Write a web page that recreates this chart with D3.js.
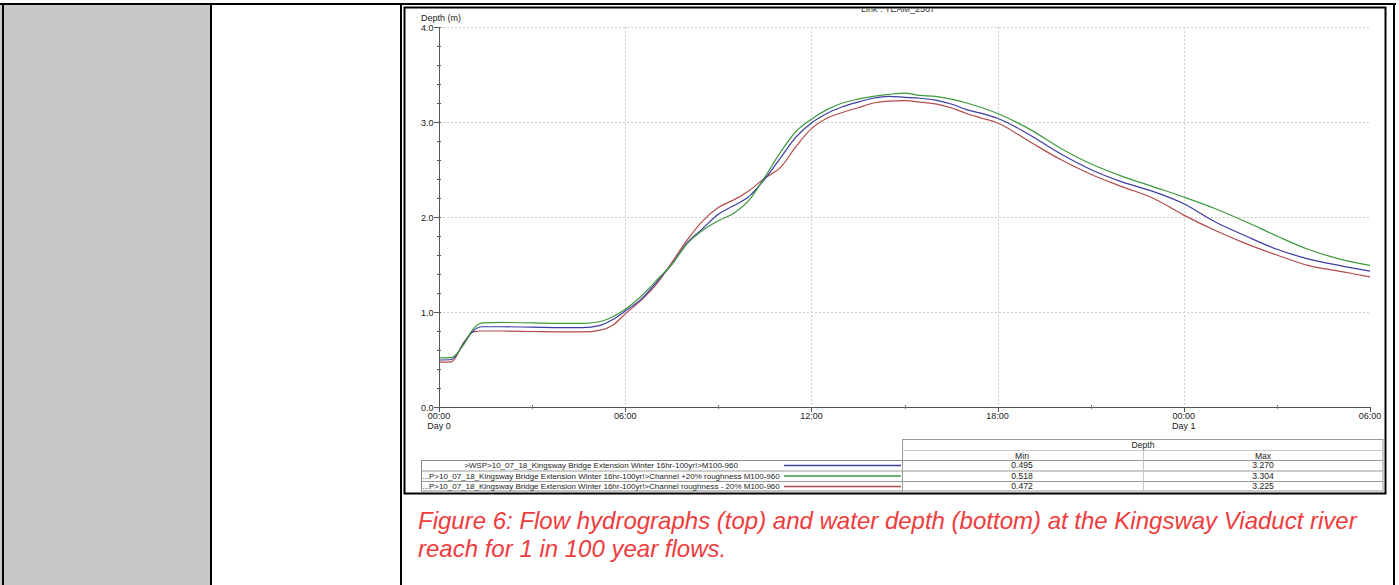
<!DOCTYPE html>
<html>
<head>
<meta charset="utf-8">
<script src="https://cdn.jsdelivr.net/npm/d3@7"></script>
<style>
  html, body { margin: 0; padding: 0; background: #fff; overflow: hidden; }
  svg { display: block; }
</style>
</head>
<body>
<script>
// time in hours from 00:00 Day 0
const hours = [0, 0.4, 0.8, 1.1, 1.4, 2, 3, 4, 4.6, 5.2, 5.6, 6, 6.5, 7, 7.5, 8, 8.5, 9, 9.5, 10,
  10.5, 11, 11.5, 12, 12.5, 13, 13.5, 14, 14.5, 15, 15.5, 16, 16.5, 17, 17.5, 18,
  19, 20, 21, 22, 23, 24, 25, 26, 27, 28, 29, 30]

const baseDepth = [0.495, 0.50, 0.67, 0.80, 0.845, 0.845, 0.84, 0.835, 0.835, 0.86, 0.92, 1.01, 1.13, 1.31, 1.50, 1.73, 1.88, 2.03, 2.12, 2.22,
  2.40, 2.62, 2.84, 2.99, 3.09, 3.16, 3.21, 3.25, 3.27, 3.26, 3.25, 3.23, 3.19, 3.13, 3.09, 3.04,
  2.87, 2.67, 2.50, 2.37, 2.27, 2.14, 1.95, 1.80, 1.66, 1.56, 1.49, 1.43]

const plusDepth = [0.518, 0.52, 0.66, 0.82, 0.885, 0.89, 0.885, 0.88, 0.88, 0.90, 0.95, 1.03, 1.16, 1.33, 1.50, 1.72, 1.86, 1.96, 2.04, 2.18,
  2.42, 2.68, 2.90, 3.03, 3.13, 3.20, 3.24, 3.27, 3.29, 3.304, 3.28, 3.27, 3.24, 3.20, 3.15, 3.09,
  2.93, 2.73, 2.56, 2.43, 2.32, 2.21, 2.09, 1.95, 1.80, 1.66, 1.56, 1.49]

const minusDepth = [0.472, 0.475, 0.68, 0.79, 0.80, 0.80, 0.795, 0.79, 0.79, 0.81, 0.86, 0.98, 1.12, 1.29, 1.52, 1.76, 1.96, 2.10, 2.18, 2.28,
  2.41, 2.52, 2.74, 2.93, 3.04, 3.10, 3.15, 3.20, 3.22, 3.225, 3.21, 3.19, 3.15, 3.09, 3.04, 2.99,
  2.80, 2.61, 2.45, 2.32, 2.20, 2.02, 1.86, 1.72, 1.60, 1.49, 1.43, 1.37]

const seriesNames = [
  '>WSP>10_07_18_Kingsway Bridge Extension Winter 16hr-100yr!>M100-960',
  '...P>10_07_18_Kingsway Bridge Extension Winter 16hr-100yr!>Channel  +20% roughness M100-960',
  '...P>10_07_18_Kingsway Bridge Extension Winter 16hr-100yr!>Channel roughness - 20% M100-960'
]
const seriesColors = ['#3c3ca6', '#3d9a3d', '#b44a4a']
const minVals = ['0.495', '0.518', '0.472']
const maxVals = ['3.270', '3.304', '3.225']

const yTicks = [0, 1, 2, 3, 4]
const xTicks = [0, 6, 12, 18, 24, 30]
const xTickLabels = ['00:00', '06:00', '12:00', '18:00', '00:00', '06:00']
const xDayLabels = ['Day 0', '', '', '', 'Day 1', '']

const width = 1399, height = 585
const svg = d3.select('body').append('svg').attr('width', width).attr('height', height)

// ---- page table (Word document cells) ----
svg.append('rect').attr('x', 0).attr('y', 5).attr('width', 210).attr('height', height).attr('fill', '#c8c8c8')
svg.append('rect').attr('x', 0).attr('y', 3).attr('width', 1396).attr('height', 2).attr('fill', '#000')
;[[2, 2], [210, 2], [400, 2], [1393, 2]].forEach(([x, w]) => {
  svg.append('rect').attr('x', x).attr('y', 3).attr('width', w).attr('height', height).attr('fill', '#000')
})

// ---- chart picture ----
const chart = svg.append('g')
chart.append('rect').attr('x', 404.5).attr('y', 7.5).attr('width', 981).attr('height', 486)
  .attr('fill', '#fff').attr('stroke', '#000').attr('stroke-width', 2)

svg.append('clipPath').attr('id', 'titleClip').append('rect')
  .attr('x', 405).attr('y', 9).attr('width', 980).attr('height', 20)
chart.append('text').attr('clip-path', 'url(#titleClip)')
  .attr('x', 898).attr('y', 12).attr('text-anchor', 'middle')
  .attr('font-family', 'Liberation Sans').attr('font-size', 9).attr('fill', '#333')
  .text('Link : TEAM_2567')

const x = d3.scaleLinear().domain([0, 30]).range([439, 1370])
const y = d3.scaleLinear().domain([0, 4]).range([407, 27])

const font = 'Liberation Sans'

// gridlines
chart.append('g').selectAll('line').data(yTicks.slice(1)).join('line')
  .attr('x1', x(0)).attr('x2', x(30)).attr('y1', d => y(d) + 0.5).attr('y2', d => y(d) + 0.5)
  .attr('stroke', '#cfcfcf').attr('stroke-dasharray', '2,2')
chart.append('g').selectAll('line').data(xTicks.slice(1, -1)).join('line')
  .attr('x1', d => Math.round(x(d)) + 0.5).attr('x2', d => Math.round(x(d)) + 0.5).attr('y1', y(4)).attr('y2', y(0))
  .attr('stroke', '#cfcfcf').attr('stroke-dasharray', '2,2')

// y axis
const yAxis = chart.append('g')
yAxis.append('line').attr('x1', 439.5).attr('x2', 439.5).attr('y1', y(4)).attr('y2', y(0)).attr('stroke', '#555')
yAxis.selectAll('.minor').data(d3.range(0, 4.001, 0.2)).join('line')
  .attr('x1', 437).attr('x2', 441).attr('y1', d => Math.round(y(d)) + 0.5).attr('y2', d => Math.round(y(d)) + 0.5)
  .attr('stroke', '#555')
yAxis.selectAll('.major').data(yTicks).join('line')
  .attr('x1', 434).attr('x2', 439).attr('y1', d => Math.round(y(d)) + 0.5).attr('y2', d => Math.round(y(d)) + 0.5)
  .attr('stroke', '#555')
yAxis.selectAll('text').data(yTicks).join('text')
  .attr('x', 421).attr('y', d => y(d) + 3.5)
  .attr('font-family', font).attr('font-size', 9).attr('fill', '#222')
  .text(d => d3.format('.1f')(d))
chart.append('text').attr('x', 421).attr('y', 21)
  .attr('font-family', font).attr('font-size', 9).attr('fill', '#222').text('Depth (m)')

// x axis
const xAxis = chart.append('g')
xAxis.append('line').attr('x1', x(0)).attr('x2', x(30)).attr('y1', 407.5).attr('y2', 407.5).attr('stroke', '#555')
xAxis.selectAll('.minor').data(d3.range(3, 30, 6)).join('line')
  .attr('x1', d => Math.round(x(d)) + 0.5).attr('x2', d => Math.round(x(d)) + 0.5).attr('y1', 405).attr('y2', 409)
  .attr('stroke', '#777')
xAxis.selectAll('.major').data(xTicks).join('line')
  .attr('x1', d => Math.round(x(d)) + 0.5).attr('x2', d => Math.round(x(d)) + 0.5).attr('y1', 407).attr('y2', 412)
  .attr('stroke', '#555')
xAxis.selectAll('.lab').data(xTicks).join('text')
  .attr('x', d => x(d)).attr('y', 419).attr('text-anchor', 'middle')
  .attr('font-family', font).attr('font-size', 9).attr('fill', '#222')
  .text((d, i) => xTickLabels[i])
xAxis.selectAll('.day').data(xTicks).join('text')
  .attr('x', d => x(d)).attr('y', 429).attr('text-anchor', 'middle')
  .attr('font-family', font).attr('font-size', 9).attr('fill', '#222')
  .text((d, i) => xDayLabels[i])

// depth lines
const allSeries = [baseDepth, plusDepth, minusDepth]
const line = d3.line().x(d => x(d[0])).y(d => y(d[1])).curve(d3.curveMonotoneX)
// draw red first, then blue, green on top
;[2, 0, 1].forEach(i => {
  chart.append('path')
    .datum(hours.map((h, j) => [h, allSeries[i][j]]))
    .attr('d', line).attr('fill', 'none')
    .attr('stroke', seriesColors[i]).attr('stroke-width', 1.2)
})

// ---- legend + stats table ----
const leg = chart.append('g')
const rowY = [460, 470.5, 481, 491]
leg.append('rect').attr('x', 421.5).attr('y', 460.5).attr('width', 481).attr('height', 30.5)
  .attr('fill', 'none').attr('stroke', '#8a8a8a')
leg.selectAll('.rl').data(rowY.slice(1, 3)).join('line')
  .attr('x1', 421.5).attr('x2', 1383).attr('y1', d => d + 0.5).attr('y2', d => d + 0.5).attr('stroke', '#9a9a9a')
leg.selectAll('.nm').data(seriesNames).join('text')
  .attr('x', 601).attr('y', (d, i) => rowY[i] + 8).attr('text-anchor', 'middle')
  .attr('font-family', font).attr('font-size', 8).attr('fill', '#222')
  .text(d => d)
leg.selectAll('.sw').data(seriesColors).join('line')
  .attr('x1', 784).attr('x2', 901).attr('y1', (d, i) => rowY[i] + 5.5).attr('y2', (d, i) => rowY[i] + 5.5)
  .attr('stroke', d => d).attr('stroke-width', 1.3)

// stats table
leg.append('rect').attr('x', 902.5).attr('y', 439.5).attr('width', 480.5).attr('height', 51.5)
  .attr('fill', 'none').attr('stroke', '#9a9a9a')
leg.append('line').attr('x1', 902.5).attr('x2', 1383).attr('y1', 450.5).attr('y2', 450.5).attr('stroke', '#c8c8c8')
leg.append('line').attr('x1', 902.5).attr('x2', 1383).attr('y1', 460.5).attr('y2', 460.5).attr('stroke', '#9a9a9a')
leg.append('line').attr('x1', 1143.5).attr('x2', 1143.5).attr('y1', 450.5).attr('y2', 491).attr('stroke', '#c8c8c8')
leg.append('text').attr('x', 1143).attr('y', 448).attr('text-anchor', 'middle')
  .attr('font-family', font).attr('font-size', 8.6).attr('fill', '#222').text('Depth')
leg.append('text').attr('x', 1022).attr('y', 458.5).attr('text-anchor', 'middle')
  .attr('font-family', font).attr('font-size', 8.6).attr('fill', '#222').text('Min')
leg.append('text').attr('x', 1263).attr('y', 458.5).attr('text-anchor', 'middle')
  .attr('font-family', font).attr('font-size', 8.6).attr('fill', '#222').text('Max')
leg.selectAll('.mn').data(minVals).join('text')
  .attr('x', 1022).attr('y', (d, i) => rowY[i] + 8).attr('text-anchor', 'middle')
  .attr('font-family', font).attr('font-size', 8.6).attr('fill', '#222').text(d => d)
leg.selectAll('.mx').data(maxVals).join('text')
  .attr('x', 1263).attr('y', (d, i) => rowY[i] + 8).attr('text-anchor', 'middle')
  .attr('font-family', font).attr('font-size', 8.6).attr('fill', '#222').text(d => d)

// ---- caption ----
const caption = svg.append('text').attr('font-family', 'Liberation Sans').attr('font-style', 'italic')
  .attr('font-size', 24).attr('fill', '#f03c3c')
caption.append('tspan').attr('x', 418).attr('y', 529)
  .text('Figure 6: Flow hydrographs (top) and water depth (bottom) at the Kingsway Viaduct river')
caption.append('tspan').attr('x', 418).attr('y', 557)
  .text('reach for 1 in 100 year flows.')
</script>
</body>
</html>
